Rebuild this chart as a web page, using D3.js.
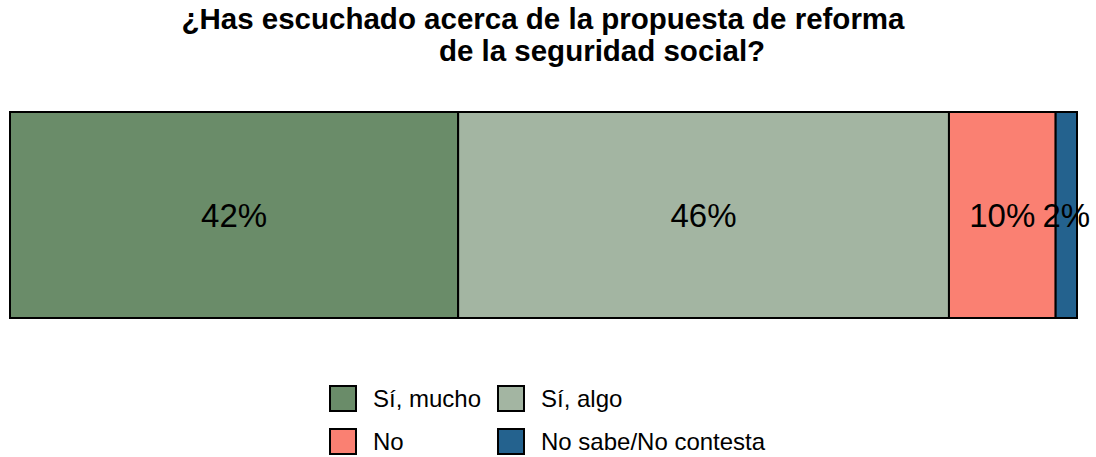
<!DOCTYPE html>
<html><head><meta charset="utf-8">
<script src="https://cdn.jsdelivr.net/npm/d3@7"></script>
<style>body{margin:0;background:#fff}svg{display:block}text{font-family:"Liberation Sans",Arial,sans-serif}</style>
</head><body>
<script>
const categories = ["Sí, mucho", "Sí, algo", "No", "No sabe/No contesta"];
const values = [42, 46, 10, 2];
const colors = ["#6a8c69", "#a3b5a2", "#fa8072", "#24628e"];
const titleLines = ["¿Has escuchado acerca de la propuesta de reforma", "de la seguridad social?"];

const W = 1096, H = 457;
const svg = d3.select("body").append("svg").attr("width", W).attr("height", H);

svg.append("text").attr("x", 543).attr("y", 29).attr("text-anchor", "middle")
  .attr("font-weight", "bold").attr("font-size", 29.5).text(titleLines[0]);
svg.append("text").attr("x", 602).attr("y", 61).attr("text-anchor", "middle")
  .attr("font-weight", "bold").attr("font-size", 29.5).text(titleLines[1]);

const total = d3.sum(values);
const x = d3.scaleLinear().domain([0, total]).range([10, 1077]);
const stacks = [];
let acc = 0;
values.forEach((v, i) => { stacks.push({cat: categories[i], v, x0: acc, x1: acc + v, c: colors[i]}); acc += v; });

const y0 = 112, y1 = 318;
svg.selectAll("rect.seg").data(stacks).enter().append("rect").attr("class", "seg")
  .attr("x", d => x(d.x0)).attr("y", y0).attr("width", d => x(d.x1) - x(d.x0)).attr("height", y1 - y0)
  .attr("fill", d => d.c).attr("stroke", "#000").attr("stroke-width", 2);

svg.selectAll("text.lab").data(stacks).enter().append("text").attr("class", "lab")
  .attr("x", d => (x(d.x0) + x(d.x1)) / 2).attr("y", 227)
  .attr("text-anchor", "middle")
  .attr("font-size", 33).attr("fill", "#000").text(d => d.v + "%");

const legPos = [[330, 386], [498, 386], [330, 429], [498, 429]];
const lg = svg.selectAll("g.leg").data(stacks).enter().append("g").attr("class", "leg")
  .attr("transform", (d, i) => `translate(${legPos[i][0]},${legPos[i][1]})`);
lg.append("rect").attr("x", 0).attr("y", 0).attr("width", 26).attr("height", 25)
  .attr("fill", d => d.c).attr("stroke", "#000").attr("stroke-width", 2);
lg.append("text").attr("x", 43).attr("y", 21).attr("font-size", 24).text(d => d.cat);
</script>
</body></html>
